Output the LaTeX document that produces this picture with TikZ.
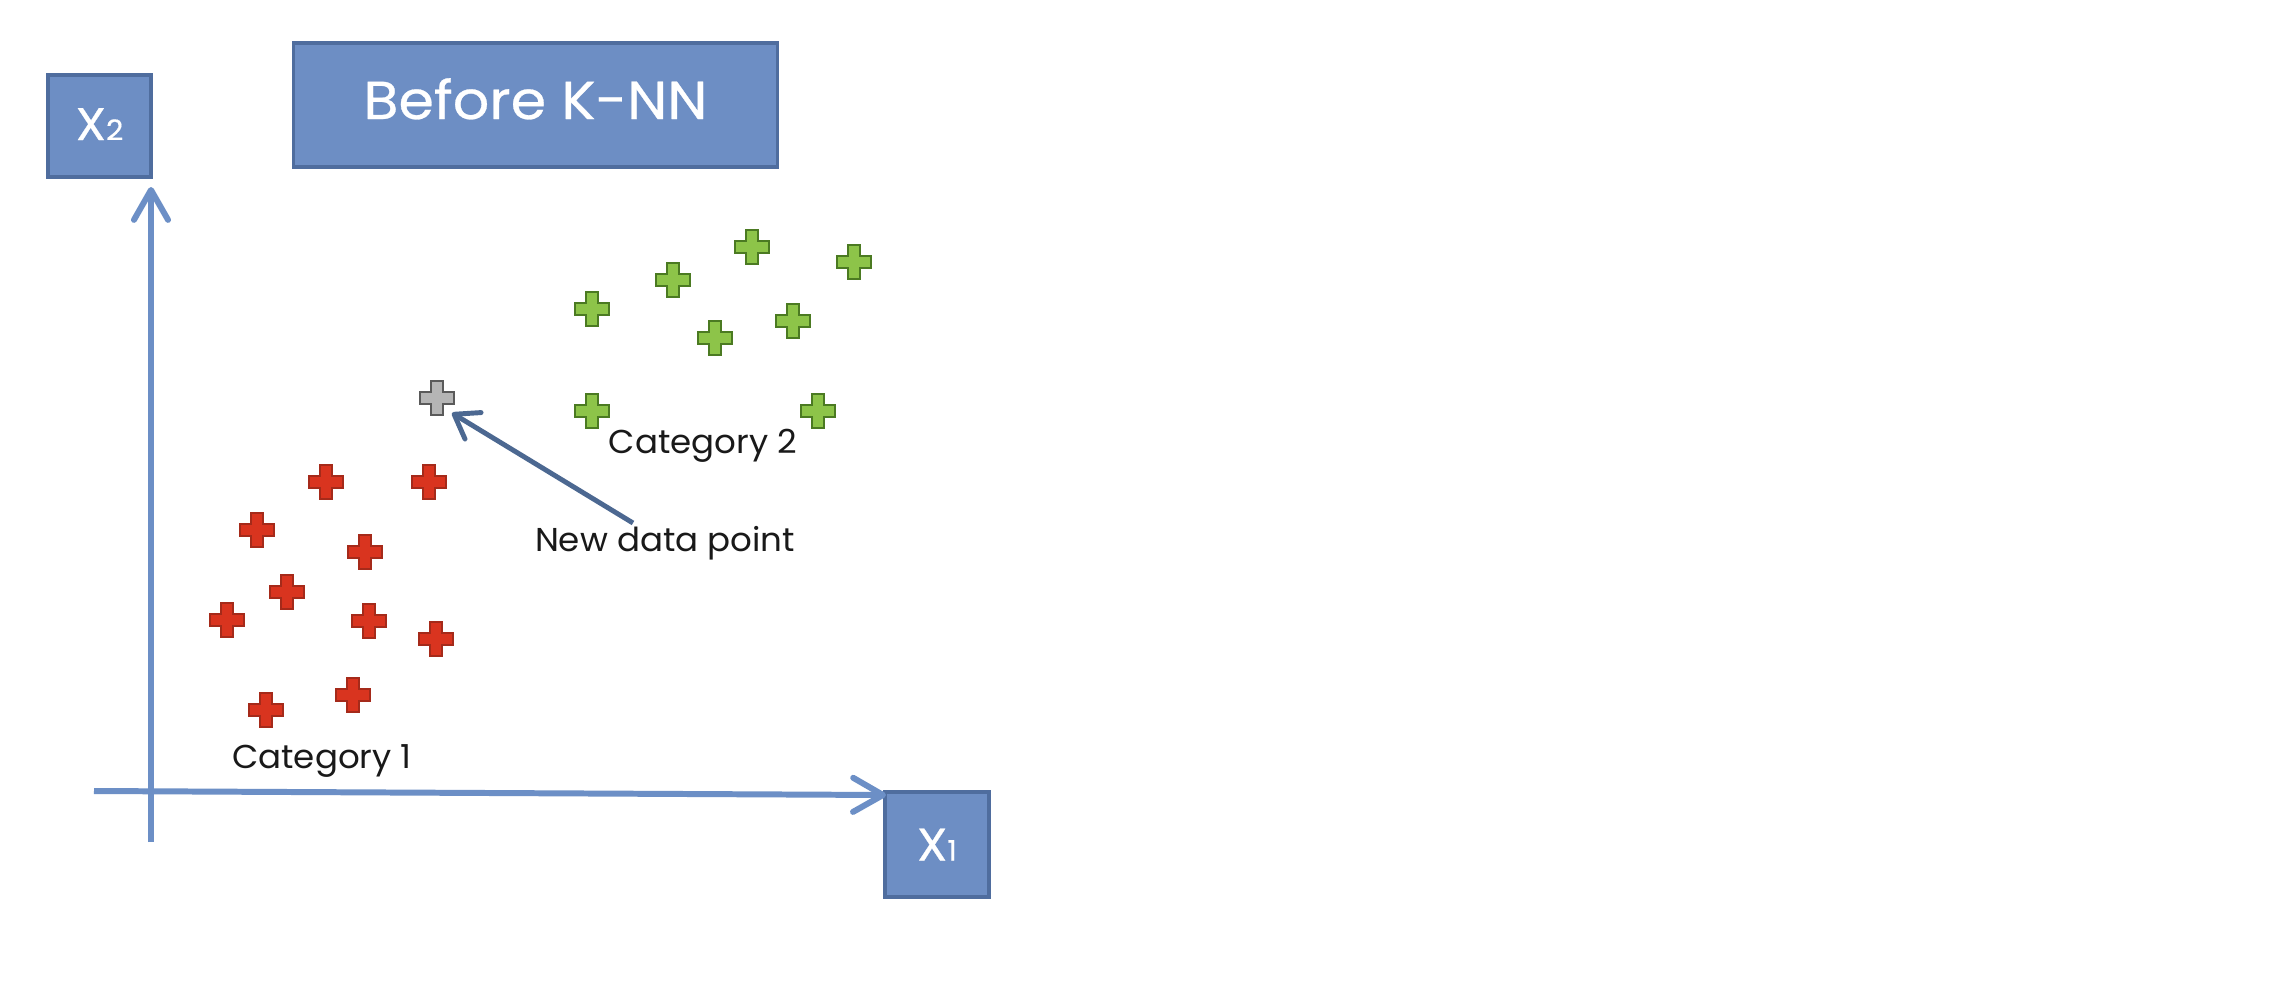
\documentclass[tikz,border=0pt]{standalone}
\usepackage{fontspec}
\setmainfont{Poppins}
\newfontfamily\titlefont{Poppins}[FakeStretch=1.07, FakeBold=0.5]
\newfontfamily\labelfont{Poppins}[FakeStretch=1.03]
\usetikzlibrary{arrows.meta}
\definecolor{boxfill}{HTML}{6D8EC4}
\definecolor{boxedge}{HTML}{4F6D9E}
\definecolor{axisblue}{HTML}{6C8FC6}
\definecolor{arrowdark}{HTML}{4C6891}
\definecolor{gfill}{HTML}{8DC449}
\definecolor{gedge}{HTML}{4B7A22}
\definecolor{rfill}{HTML}{D9341F}
\definecolor{redge}{HTML}{A52A1A}
\definecolor{nfill}{HTML}{B5B5B5}
\definecolor{nedge}{HTML}{5A5A5A}
\tikzset{
  titlebox/.style={draw=boxedge, fill=boxfill, line width=0.9pt, text=white, inner sep=0pt},
  axisline/.style={draw=axisblue, line width=1.7pt, -{Straight Barb[round,length=8.5pt,width=9.7pt]}},
  pointer/.style={draw=arrowdark, line width=1.4pt, -{Straight Barb[round,length=6.3pt,width=8.8pt]}},
  catlabel/.style={anchor=base, inner sep=0pt, font=\labelfont\fontsize{9.4pt}{11pt}\selectfont, text=black!90},
  greenx/.style={fill=gfill, draw=gedge, line width=0.6pt},
  redx/.style={fill=rfill, draw=redge, line width=0.5pt},
  newx/.style={fill=nfill, draw=nedge, line width=0.6pt},
  pics/crossmark/.style={code={
    \path[#1] (-6,-17) -- (6,-17) -- (6,-6) -- (17,-6) -- (17,6) -- (6,6) -- (6,17)
      -- (-6,17) -- (-6,6) -- (-17,6) -- (-17,-6) -- (-6,-6) -- cycle;}},
}
\newcommand{\subfont}{\fontsize{8pt}{8pt}\selectfont}
\begin{document}
\begin{tikzpicture}[x=0.01cm, y=-0.01cm]
  \path[fill=white] (0,0) rectangle (2272,984);
  \useasboundingbox (0,0) rectangle (2272,984);

  % boxes
  \node[titlebox, minimum width=4.83cm, minimum height=1.24cm,
        font=\titlefont\fontsize{15.2pt}{18pt}\selectfont, text height=0.39cm, text depth=0.11cm]
        (knn) at (535.5,105) {Before K-NN};
  \node[titlebox, minimum width=1.03cm, minimum height=1.02cm,
        font=\titlefont\fontsize{13pt}{15pt}\selectfont, text height=0.32cm, text depth=0.04cm]
        (x2box) at (99.5,126) {X{\subfont 2}};
  \node[titlebox, minimum width=1.04cm, minimum height=1.05cm,
        font=\titlefont\fontsize{13pt}{15pt}\selectfont, text height=0.32cm, text depth=0cm]
        (x1box) at (937,844.5) {X{\subfont 1}};

  % axes
  \coordinate (ybot) at (151,842);
  \coordinate (ytop) at (151,187);
  \coordinate (xleft) at (94,791);
  \coordinate (xright) at (886,795);
  \draw[axisline] (ybot) -- (ytop);
  \draw[axisline] (xleft) -- (xright);

  % green points
  \pic (g1) at (592,309) {crossmark=greenx};
  \pic (g2) at (673,280) {crossmark=greenx};
  \pic (g3) at (752,247) {crossmark=greenx};
  \pic (g4) at (854,262) {crossmark=greenx};
  \pic (g5) at (715,338) {crossmark=greenx};
  \pic (g6) at (793,321) {crossmark=greenx};
  \pic (g7) at (592,411) {crossmark=greenx};
  \pic (g8) at (818,411) {crossmark=greenx};

  % red points
  \pic (r1) at (326,482) {crossmark=redx};
  \pic (r2) at (429,482) {crossmark=redx};
  \pic (r3) at (257,530) {crossmark=redx};
  \pic (r4) at (365,552) {crossmark=redx};
  \pic (r5) at (287,592) {crossmark=redx};
  \pic (r6) at (227,620) {crossmark=redx};
  \pic (r7) at (369,621) {crossmark=redx};
  \pic (r8) at (436,639) {crossmark=redx};
  \pic (r9) at (266,710) {crossmark=redx};
  \pic (r10) at (353,695) {crossmark=redx};

  % new point
  \pic (np) at (437,398) {crossmark=newx};

  % labels
  \node[catlabel] (cat2) at (703,453) {Category 2};
  \node[catlabel] (newlabel) at (665,551) {New data point};
  \node[catlabel] (cat1) at (322,768) {Category 1};

  % pointer
  \coordinate (astart) at (633,523);
  \coordinate (aend) at (452,413);
  \draw[pointer] (astart) -- (aend);
\end{tikzpicture}
\end{document}
